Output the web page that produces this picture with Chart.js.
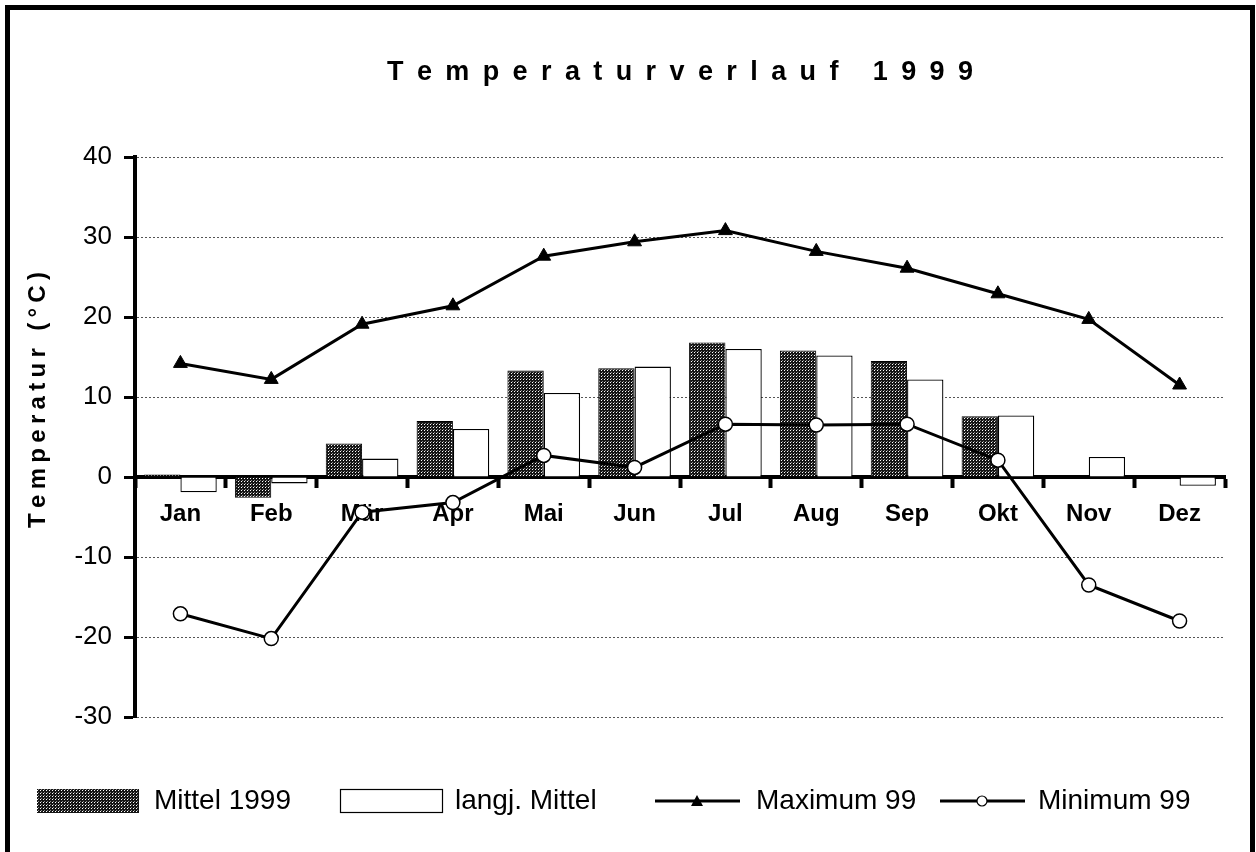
<!DOCTYPE html>
<html lang="de">
<head>
<meta charset="utf-8">
<title>Temperaturverlauf 1999</title>
<script src="https://cdn.jsdelivr.net/npm/chart.js@4.4.1/dist/chart.umd.min.js"></script>
<style>
  html, body { margin: 0; padding: 0; background: #fff; overflow: hidden; }
  #wrap { position: relative; width: 1256px; height: 852px; }
  #chart { position: absolute; left: 0; top: 0; }
  #frame {
    position: absolute; left: 5px; top: 5px; width: 1240px; height: 900px;
    border-top: 5px solid #000; border-left: 5px solid #000; border-right: 5px solid #000;
    pointer-events: none;
  }
</style>
</head>
<body>
<div id="wrap">
  <canvas id="chart" width="1256" height="852"></canvas>
  <div id="frame"></div>
</div>
<script>
'use strict';

// ── Data ──────────────────────────────────────────────────────
const TITLE   = 'Temperaturverlauf 1999';
const Y_LABEL = 'Temperatur (°C)';

const MONTHS       = ['Jan', 'Feb', 'Mär', 'Apr', 'Mai', 'Jun', 'Jul', 'Aug', 'Sep', 'Okt', 'Nov', 'Dez'];
const MITTEL_1999  = [0.3, -2.6, 4.2, 7.0, 13.3, 13.6, 16.8, 15.8, 14.5, 7.6, null, null];
const LANGJ_MITTEL = [-1.9, -0.8, 2.3, 6.0, 10.5, 13.8, 16.0, 15.2, 12.2, 7.7, 2.5, -1.1];
const MAXIMUM_99   = [14.2, 12.2, 19.1, 21.4, 27.6, 29.4, 30.8, 28.2, 26.1, 22.9, 19.7, 11.5];
const MINIMUM_99   = [-17.1, -20.2, -4.4, -3.2, 2.7, 1.2, 6.6, 6.5, 6.6, 2.1, -13.5, -18.0];

const Y_MIN  = -30;
const Y_MAX  = 40;
const Y_STEP = 10;

const FONT = '"Liberation Sans", Arial, Helvetica, sans-serif';

// ── Dotted halftone fill like the scanned print ──────────────
function makeDotPattern() {
  const c = document.createElement('canvas');
  c.width = 3; c.height = 3;
  const g = c.getContext('2d');
  g.fillStyle = '#151515';
  g.fillRect(0, 0, 3, 3);
  g.fillStyle = '#ffffff';
  g.fillRect(1, 1, 1, 1);
  g.fillStyle = '#8a8a8a';
  g.fillRect(2, 0, 1, 1);
  return g.createPattern(c, 'repeat');
}
const DOTS = makeDotPattern();

// draw text with extra tracking, centred on (0,0) of current transform
function spacedText(ctx, text, targetWidth) {
  const chars = [...text];
  const widths = chars.map(ch => ctx.measureText(ch).width);
  const raw = widths.reduce((a, b) => a + b, 0);
  const gap = chars.length > 1 ? (targetWidth - raw) / (chars.length - 1) : 0;
  let x = -targetWidth / 2;
  ctx.textAlign = 'left';
  ctx.textBaseline = 'middle';
  chars.forEach((ch, i) => {
    ctx.fillText(ch, x, 0);
    x += widths[i] + gap;
  });
}

// ── Plugins: title, rotated axis label, legend ───────────────
const decorPlugin = {
  id: 'decor',
  afterDraw(chart) {
    const { ctx, chartArea } = chart;
    ctx.save();
    ctx.fillStyle = '#000';

    // title
    ctx.font = `bold 27px ${FONT}`;
    ctx.save();
    ctx.translate((chartArea.left + chartArea.right) / 2, 73);
    spacedText(ctx, TITLE, 586);
    ctx.restore();

    // y axis label
    ctx.font = `bold 24px ${FONT}`;
    ctx.save();
    ctx.translate(38, 400);
    ctx.rotate(-Math.PI / 2);
    spacedText(ctx, Y_LABEL, 256);
    ctx.restore();

    // legend
    const ly = 801;
    ctx.font = `28px ${FONT}`;
    ctx.textAlign = 'left';
    ctx.textBaseline = 'middle';

    const ds = chart.data.datasets;

    ctx.fillStyle = DOTS;
    ctx.fillRect(37, 789, 102, 24);
    ctx.fillStyle = '#000';
    ctx.fillText(ds[0].label, 154, ly);

    ctx.fillStyle = '#fff';
    ctx.fillRect(340, 789, 103, 24);
    ctx.strokeStyle = '#000';
    ctx.lineWidth = 1.2;
    ctx.strokeRect(340.5, 789.5, 102, 23);
    ctx.fillStyle = '#000';
    ctx.fillText(ds[1].label, 455, ly);

    // max line sample
    ctx.lineWidth = 3;
    ctx.beginPath(); ctx.moveTo(655, ly); ctx.lineTo(740, ly); ctx.stroke();
    ctx.beginPath();
    ctx.moveTo(697, ly - 6); ctx.lineTo(703, ly + 5); ctx.lineTo(691, ly + 5); ctx.closePath();
    ctx.fill();
    ctx.fillText(ds[2].label, 756, ly);

    // min line sample
    ctx.beginPath(); ctx.moveTo(940, ly); ctx.lineTo(1025, ly); ctx.stroke();
    ctx.beginPath(); ctx.arc(982, ly, 5, 0, Math.PI * 2);
    ctx.fillStyle = '#fff'; ctx.fill();
    ctx.lineWidth = 1.2; ctx.stroke();
    ctx.fillStyle = '#000';
    ctx.fillText(ds[3].label, 1038, ly);

    ctx.restore();
  },
};

// ── Chart ─────────────────────────────────────────────────────
new Chart(document.getElementById('chart'), {
  type: 'bar',
  data: {
    labels: MONTHS,
    datasets: [
      {
        label: 'Mittel 1999',
        data: MITTEL_1999,
        backgroundColor: DOTS,
        borderColor: '#000',
        borderWidth: 1,
        categoryPercentage: 0.8,
        barPercentage: 1.0,
        order: 2,
      },
      {
        label: 'langj. Mittel',
        data: LANGJ_MITTEL,
        backgroundColor: '#fff',
        borderColor: '#000',
        borderWidth: 1.3,
        categoryPercentage: 0.8,
        barPercentage: 1.0,
        order: 2,
      },
      {
        type: 'line',
        label: 'Maximum 99',
        data: MAXIMUM_99,
        borderColor: '#000',
        borderWidth: 3,
        pointStyle: 'triangle',
        pointRadius: 8,
        pointBackgroundColor: '#000',
        pointBorderColor: '#000',
        pointBorderWidth: 1,
        tension: 0,
        order: 1,
      },
      {
        type: 'line',
        label: 'Minimum 99',
        data: MINIMUM_99,
        borderColor: '#000',
        borderWidth: 3,
        pointStyle: 'circle',
        pointRadius: 7,
        pointBackgroundColor: '#fff',
        pointBorderColor: '#000',
        pointBorderWidth: 1.5,
        tension: 0,
        order: 1,
      },
    ],
  },
  options: {
    responsive: false,
    animation: false,
    devicePixelRatio: 1,
    layout: { padding: { top: 157, right: 31, bottom: 135, left: 0 } },
    plugins: {
      legend: { display: false },
      title: { display: false },
      tooltip: { enabled: false },
    },
    scales: {
      x: {
        position: { y: 0 },
        offset: true,
        z: 1,
        grid: {
          display: true,
          offset: true,
          drawOnChartArea: false,
          drawTicks: true,
          tickLength: 9,
          tickWidth: 4,
          tickColor: '#000',
        },
        border: { display: true, color: '#000', width: 4 },
        ticks: {
          color: '#000',
          padding: 14,
          font: { family: FONT, size: 24, weight: 'bold' },
        },
      },
      y: {
        min: Y_MIN,
        max: Y_MAX,
        afterFit(scale) { scale.width = 135; },
        grid: {
          color: '#555',
          lineWidth: 1,
          tickLength: 11,
          tickWidth: 3,
          tickColor: '#000',
        },
        border: { display: true, color: '#000', width: 4, dash: [2, 2] },
        ticks: {
          stepSize: Y_STEP,
          color: '#000',
          padding: 12,
          font: { family: FONT, size: 26 },
        },
      },
    },
  },
  plugins: [decorPlugin],
});
</script>
</body>
</html>
